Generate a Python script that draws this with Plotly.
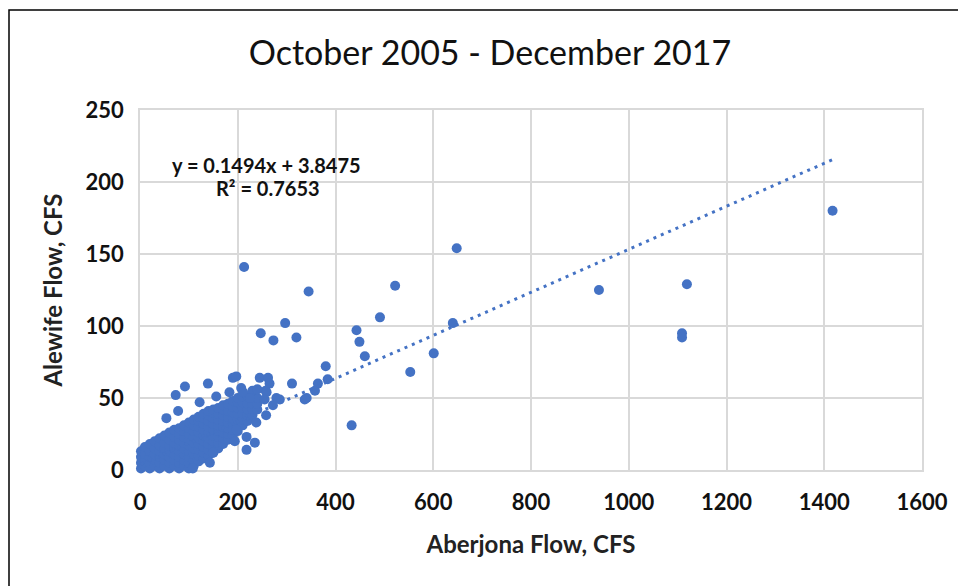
import plotly.graph_objects as go

# ---- data ----
# dense cluster, written column by column (x value, then its y values)
cluster_cols = [
    (2, [1, 5, 9, 13]),
    (10, [3, 7, 11, 16]),
    (20, [1, 5, 9, 13, 18]),
    (30, [3, 7, 11, 15, 20]),
    (40, [1, 5, 9, 13, 17, 22]),
    (50, [3, 7, 11, 15, 19, 24]),
    (60, [1, 5, 9, 13, 17, 21, 26]),
    (70, [3, 7, 11, 15, 19, 23, 28]),
    (80, [1, 5, 9, 13, 17, 21, 25, 29]),
    (90, [3, 7, 11, 15, 19, 23, 27, 31]),
    (100, [1, 5, 9, 13, 17, 21, 25, 29, 33]),
    (110, [3, 7, 11, 15, 19, 23, 27, 31, 35]),
    (120, [6, 10, 14, 18, 22, 26, 30, 34, 37]),
    (130, [8, 12, 16, 20, 24, 28, 32, 36, 39]),
    (140, [10, 14, 18, 22, 26, 30, 34, 38, 41]),
    (150, [12, 16, 20, 24, 28, 32, 36, 40, 42]),
    (160, [15, 19, 23, 27, 31, 35, 39, 43]),
    (170, [18, 22, 26, 30, 34, 38, 42, 45]),
    (180, [21, 25, 29, 33, 37, 41, 46]),
    (190, [24, 28, 32, 36, 40, 44, 48]),
    (200, [27, 31, 35, 39, 43, 47, 50]),
    (210, [31, 35, 39, 43, 47, 51]),
    (220, [34, 38, 42, 46, 51]),
    (230, [38, 42, 46, 51]),
    (240, [42, 46, 50]),
]

scatter_x = [143, 149, 194, 197, 218, 218, 235, 238, 258, 108,
             73, 78, 92, 54, 139, 122, 156, 183, 190, 197, 207, 211, 245,
             262, 265, 257, 259, 255, 279, 286, 272, 311, 230, 240, 225]
scatter_y = [5, 12, 20, 28, 23, 14, 19, 33, 38, 1,
             52, 41, 58, 36, 60, 47, 51, 54, 64, 65, 57, 54, 64,
             64, 60, 55, 54, 49, 50, 49, 45, 60, 55, 56, 50]

outlier_x = [213, 345, 522, 491, 297, 247, 273, 320, 443, 449, 460, 380,
             384, 364, 358, 341, 337, 433, 648, 939, 1119, 1109, 1109,
             640, 601, 553, 1417]
outlier_y = [141, 124, 128, 106, 102, 95, 90, 92, 97, 89, 79, 72,
             63, 60, 55, 50, 49, 31, 154, 125, 129, 95, 92,
             102, 81, 68, 180]

trend_slope = 0.1494
trend_intercept = 3.8475

x_ticks = [0, 200, 400, 600, 800, 1000, 1200, 1400, 1600]
y_ticks = [0, 50, 100, 150, 200, 250]

# ---- assemble ----
xs, ys = [], []
for cx, cys in cluster_cols:
    for cy in cys:
        xs.append(cx)
        ys.append(cy)
xs += scatter_x + outlier_x
ys += scatter_y + outlier_y

trend_x = [min(xs), max(xs)]
trend_y = [trend_slope * v + trend_intercept for v in trend_x]

BLUE = "#4472C4"
FONT = "Lato"

# the page body adds an 8px offset; figure coordinates below account for it
W, H = 958, 578
L, R, T, B = 132, 44, 102, 116
PW, PH = W - L - R, H - T - B

fig = go.Figure()
fig.add_trace(go.Scatter(
    x=xs, y=ys, mode="markers",
    marker=dict(color=BLUE, size=10, line=dict(width=0)),
    cliponaxis=False, showlegend=False, hoverinfo="x+y",
))
fig.add_trace(go.Scatter(
    x=trend_x, y=trend_y, mode="lines",
    line=dict(color=BLUE, width=3, dash="3px,5px"),
    showlegend=False, hoverinfo="skip",
))

grid = "#D9D9D9"
fig.update_layout(
    width=W, height=H,
    margin=dict(l=L, r=R, t=T, b=B),
    paper_bgcolor="white", plot_bgcolor="white",
    title=dict(text="October 2005 - December 2017", x=(490 - 8) / W, xanchor="center",
               y=1 - (53 - 8) / H, yanchor="middle",
               font=dict(family=FONT, size=34, color="#111")),
    xaxis=dict(range=[0, 1600], tickvals=x_ticks, ticktext=[str(v) for v in x_ticks],
               showgrid=True, gridcolor=grid, gridwidth=1.5, zeroline=False,
               showline=True, linecolor=grid, linewidth=1.5, mirror=True,
               layer="below traces",
               ticks="", ticklabelstandoff=12,
               tickfont=dict(family=FONT, size=22, color="#111", weight="bold"),
               title=dict(text="<b>Aberjona Flow, CFS</b>", standoff=22,
                          font=dict(family=FONT, size=24, color="#222"))),
    yaxis=dict(range=[0, 250], tickvals=y_ticks, ticktext=[str(v) for v in y_ticks],
               showgrid=True, gridcolor=grid, gridwidth=1.5, zeroline=False,
               showline=True, linecolor=grid, linewidth=1.5, mirror=True,
               layer="below traces",
               ticks="", ticklabelstandoff=10,
               tickfont=dict(family=FONT, size=22, color="#111", weight="bold"),
               title=dict(text="<b>Alewife Flow, CFS</b>", standoff=16,
                          font=dict(family=FONT, size=24, color="#222"))),
    annotations=[
        dict(text="<b>y = 0.1494x + 3.8475</b>", xref="paper", yref="paper",
             x=(266.5 - 140) / PW, y=(470.5 - 165.5) / PH,
             xanchor="center", yanchor="middle", showarrow=False,
             font=dict(family=FONT, size=20, color="#111")),
        dict(text="<b>R² = 0.7653</b>", xref="paper", yref="paper",
             x=(268 - 140) / PW, y=(470.5 - 188) / PH,
             xanchor="center", yanchor="middle", showarrow=False,
             font=dict(family=FONT, size=20, color="#111")),
    ],
    shapes=[dict(type="rect", xref="paper", yref="paper",
                 x0=(1 - L) / PW, x1=(955 - L) / PW,
                 y0=-0.6, y1=1 + (T - 2) / PH,
                 line=dict(color="black", width=1.5), layer="below")],
)

fig.write_html("out.html")
